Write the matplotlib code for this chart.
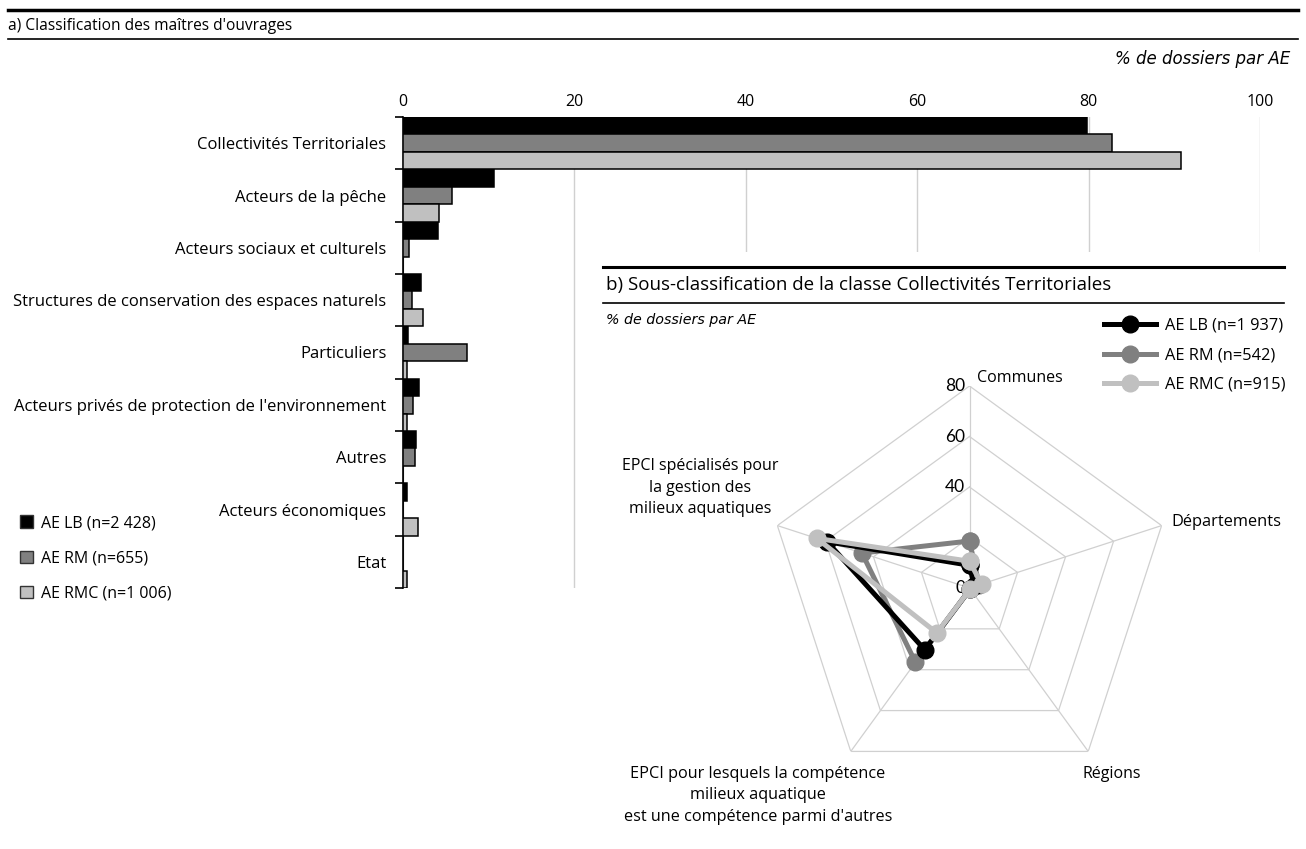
import numpy as np
import matplotlib.pyplot as plt
from matplotlib.patches import Patch
from matplotlib.lines import Line2D

plt.rcParams['font.family'] = ['Open Sans', 'DejaVu Sans']

categories = [
    "Collectivités Territoriales",
    "Acteurs de la pêche",
    "Acteurs sociaux et culturels",
    "Structures de conservation des espaces naturels",
    "Particuliers",
    "Acteurs privés de protection de l'environnement",
    "Autres",
    "Acteurs économiques",
    "Etat",
]
bar_lb = [79.8, 10.6, 4.1, 2.1, 0.6, 1.9, 1.5, 0.5, 0.0]
bar_rm = [82.7, 5.7, 0.7, 1.0, 7.5, 1.2, 1.4, 0.0, 0.0]
bar_rmc = [90.8, 4.2, 0.0, 2.3, 0.5, 0.5, 0.0, 1.7, 0.5]
bar_series = ["AE LB (n=2 428)", "AE RM (n=655)", "AE RMC (n=1 006)"]
bar_ticks = [0, 20, 40, 60, 80, 100]

radar_axes = [
    "Communes",
    "Départements",
    "Régions",
    "EPCI pour lesquels la compétence\nmilieux aquatique\nest une compétence parmi d'autres",
    "EPCI spécialisés pour\nla gestion des\nmilieux aquatiques",
]
radar_lb = [9.0, 2.0, 0.5, 30.2, 59.3]
radar_rm = [18.6, 4.0, 0.5, 36.4, 44.8]
radar_rmc = [10.6, 5.0, 0.5, 22.0, 63.6]
radar_series = ["AE LB (n=1 937)", "AE RM (n=542)", "AE RMC (n=915)"]
radar_grid = [20, 40, 60, 80]
radar_ticklabels = [0, 40, 60, 80]

colors = ["#000000", "#808080", "#c0c0c0"]

W, H = 1306, 849
fig = plt.figure(figsize=(W / 100, H / 100), dpi=100)

# --- header a)
fig.add_artist(Line2D([8 / W, 1298 / W], [1 - 10 / H] * 2, lw=2.5, color="black"))
fig.add_artist(Line2D([8 / W, 1298 / W], [1 - 39 / H] * 2, lw=1.2, color="black"))
fig.text(8 / W, 1 - 26 / H, "a) Classification des maîtres d'ouvrages", fontsize=11.2, va="center")
fig.text(1290 / W, 1 - 59 / H, "% de dossiers par AE", fontsize=12, style="italic",
         family="DejaVu Sans", ha="right", va="center")

# --- bar chart
ax = fig.add_axes([403 / W, 1 - 588 / H, 857 / W, 471 / H])
y = np.arange(len(categories))
h = 1 / 3
for i, (vals, lab) in enumerate(zip([bar_lb, bar_rm, bar_rmc], bar_series)):
    ax.barh(y + (i - 1) * h, vals, height=h, color=colors[i], edgecolor="black", lw=1.1, label=lab, zorder=3)
ax.set_xlim(0, 100)
ax.set_ylim(len(categories) - 0.5, -0.5)
ax.set_xticks(bar_ticks)
ax.xaxis.tick_top()
ax.tick_params(axis="x", length=0, pad=5, labelsize=11.5)
ax.set_yticks(np.arange(len(categories) + 1) - 0.5)
ax.set_yticklabels([])
ax.set_yticks(y, minor=True)
ax.set_yticklabels(categories, minor=True, fontsize=12)
ax.tick_params(axis="y", which="major", length=6, width=1.2, direction="out")
ax.tick_params(axis="y", which="minor", length=0, pad=12)
for s in ["top", "right", "bottom"]:
    ax.spines[s].set_visible(False)
ax.spines["left"].set_linewidth(1.2)
ax.grid(axis="x", color="#d0d0d0", lw=1)
ax.set_axisbelow(True)

handles = [Patch(facecolor=c, edgecolor="#333333", lw=1) for c in colors]
fig.legend(handles, bar_series, loc="upper left", bbox_to_anchor=(20 / W, 1 - 515 / H),
           frameon=False, fontsize=11.5, handlelength=0.8, handleheight=0.8,
           handletextpad=0.5, labelspacing=1.2, borderpad=0, borderaxespad=0)

# --- inset b)
cover = fig.add_axes([590 / W, 0, 716 / W, 1 - 252 / H])
cover.set_facecolor("white")
cover.set_xticks([])
cover.set_yticks([])
for s in cover.spines.values():
    s.set_visible(False)

fig.add_artist(Line2D([603 / W, 1284 / W], [1 - 267 / H] * 2, lw=2.2, color="black"))
fig.add_artist(Line2D([603 / W, 1284 / W], [1 - 303 / H] * 2, lw=1.2, color="black"))
fig.text(606 / W, 1 - 285 / H, "b) Sous-classification de la classe Collectivités Territoriales",
         fontsize=13.5, va="center")
fig.text(606 / W, 1 - 320 / H, "% de dossiers par AE", fontsize=10.3, style="italic",
         family="DejaVu Sans", va="center")

r = 202
rad = fig.add_axes([(969.5 - r) / W, (H - 588 - r) / H, 2 * r / W, 2 * r / H], projection="polar")
rad.patch.set_alpha(0)
rad.set_theta_offset(np.pi / 2)
rad.set_theta_direction(-1)
rad.set_ylim(0, 80)
rad.grid(False)
rad.spines["polar"].set_visible(False)
rad.set_xticks([])
rad.set_yticks([])

theta = np.linspace(0, 2 * np.pi, len(radar_axes), endpoint=False)
theta_c = np.append(theta, theta[0])
for lev in radar_grid:
    rad.plot(theta_c, [lev] * len(theta_c), color="#d0d0d0", lw=0.9, zorder=1)
for t in theta:
    rad.plot([t, t], [0, radar_grid[-1]], color="#d0d0d0", lw=0.9, zorder=1)
for v in radar_ticklabels:
    rad.annotate(str(v), xy=(0, v), xytext=(-3, 0), textcoords="offset points",
                 ha="right", va="center", fontsize=12.5, fontfamily="Lato", zorder=2)

label_off = [(8, 8, "left", 11.5), (10, 4, "left", 11.8), (24, -23, "center", 11.5),
             (-93, -44, "center", 11.7), (-77, 38, "center", 11.5)]
for t, lab, (dx, dy, ha, fs) in zip(theta, radar_axes, label_off):
    rad.annotate(lab, xy=(t, radar_grid[-1]), xytext=(dx * 0.72, dy * 0.72), textcoords="offset points",
                 ha=ha, va="center", fontsize=fs, multialignment="center", linespacing=1.45, zorder=2)

zo = [4, 3, 5]
for i, (vals, lab) in enumerate(zip([radar_lb, radar_rm, radar_rmc], radar_series)):
    vv = np.append(vals, vals[0])
    rad.plot(theta_c, vv, color=colors[i], lw=3.6, marker="o", ms=12, label=lab, zorder=zo[i])

lh = [Line2D([], [], color=c, lw=3.6, marker="o", ms=12) for c in colors]
fig.legend(lh, radar_series, loc="upper left", bbox_to_anchor=(1104 / W, 1 - 318 / H),
           frameon=False, fontsize=11.8, handlelength=3.2, handletextpad=0.5,
           labelspacing=0.82, borderpad=0, borderaxespad=0)

fig.savefig("out.png", dpi=100)
